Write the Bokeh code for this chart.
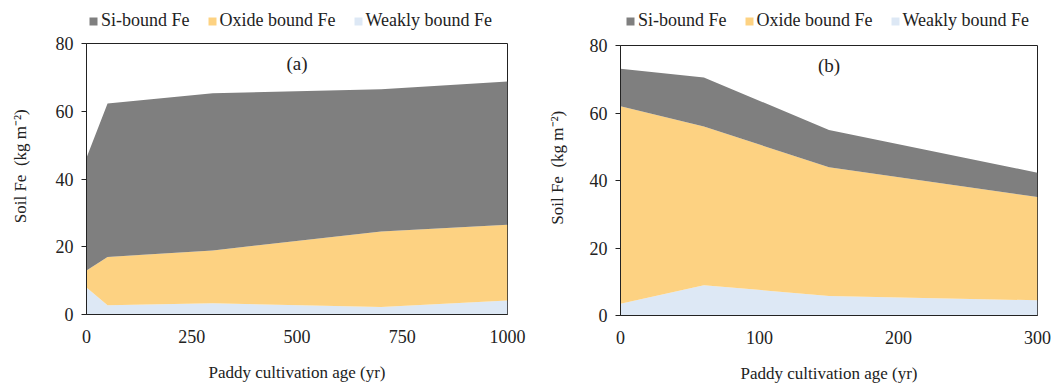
from bokeh.plotting import figure
from bokeh.models import ColumnDataSource, Legend, FixedTicker, Label, Range1d
from bokeh.layouts import row, column
from bokeh.embed import file_html
from bokeh.resources import INLINE

# Panel (a)
age_a = [0, 50, 300, 700, 1000]
weak_a = [8.0, 2.7, 3.3, 2.2, 4.1]
oxide_a = [5.0, 14.3, 15.6, 22.3, 22.4]
si_a = [33.3, 45.3, 46.4, 42.0, 42.3]

# Panel (b)
age_b = [0, 60, 150, 300]
weak_b = [3.5, 9.0, 5.8, 4.5]
oxide_b = [58.5, 47.0, 38.1, 30.6]
si_b = [11.1, 14.5, 11.1, 7.2]

xticks_a = [0, 250, 500, 750, 1000]
xticks_b = [0, 100, 200, 300]
yticks = [0, 20, 40, 60, 80]

series = ["weak", "oxide", "si"]
names = {"si": "Si-bound Fe", "oxide": "Oxide bound Fe", "weak": "Weakly bound Fe"}
colors = {"si": "#7f7f7f", "oxide": "#fdd282", "weak": "#dde8f5"}
FONT = "Liberation Serif"
LEG_H = 32
H = 385 - LEG_H
YLABEL = "\u00a0" * 6 + "Soil Fe\u00a0\u00a0(kg m\u207b\u00b2)"


def legend_fig(src, width, lx):
    # legend-only strip above each panel; the stack is drawn off-view so only the legend shows
    lf = figure(width=width, height=LEG_H, output_backend="svg", toolbar_location=None,
                x_axis_type=None, y_axis_type=None, x_range=Range1d(0, 1),
                y_range=Range1d(-3, -2), min_border=0, outline_line_color=None)
    lf.xgrid.visible = False
    lf.ygrid.visible = False
    rs = lf.varea_stack(stackers=series, x="x", source=src,
                        color=[colors[s] for s in series])
    rmap = dict(zip(series, rs))
    items = [(names[s], [rmap[s]]) for s in ["si", "oxide", "weak"]]
    leg = Legend(items=items, orientation="horizontal", location=(lx, 1),
                 border_line_color=None, background_fill_alpha=0,
                 label_text_font=FONT, label_text_font_size="18px",
                 label_text_color="#222222", label_height=18,
                 glyph_width=10, glyph_height=10, label_standoff=3,
                 spacing=17, padding=2, margin=0)
    lf.add_layout(leg, "center")
    return lf


def make(src, xmax, xticks, tag, width, bl, br, bt, bb, ystand):
    p = figure(width=width, height=H, output_backend="svg", toolbar_location=None,
               x_range=Range1d(0, xmax), y_range=Range1d(0, 80),
               min_border_left=bl, min_border_right=br, min_border_top=bt, min_border_bottom=bb)
    p.varea_stack(stackers=series, x="x", source=src,
                  color=[colors[s] for s in series])
    p.xgrid.visible = False
    p.ygrid.visible = False
    p.outline_line_color = "#222222"
    p.outline_line_width = 1
    for ax in (p.xaxis[0], p.yaxis[0]):
        ax.axis_line_color = "#222222"
        ax.major_tick_line_color = "#222222"
        ax.minor_tick_line_color = None
        ax.major_label_text_font = FONT
        ax.major_label_text_font_size = "18px"
        ax.major_label_text_color = "#222222"
        ax.axis_label_text_font = FONT
        ax.axis_label_text_font_size = "17px"
        ax.axis_label_text_font_style = "normal"
        ax.axis_label_text_color = "#222222"
    p.xaxis.ticker = FixedTicker(ticks=xticks)
    p.yaxis.ticker = FixedTicker(ticks=yticks)
    p.xaxis.major_tick_in = 0
    p.xaxis.major_tick_out = 0
    p.yaxis.major_tick_in = 0
    p.yaxis.major_tick_out = 5
    p.yaxis.major_label_standoff = 8
    p.xaxis.major_label_standoff = 15
    p.xaxis.axis_label_standoff = 17
    p.xaxis.axis_label = "Paddy cultivation age (yr)"
    p.yaxis.axis_label = YLABEL
    p.yaxis.axis_label_standoff = ystand
    p.add_layout(Label(x=xmax / 2, y=74, text=tag, text_font=FONT,
                       text_font_size="19px", text_align="center",
                       text_baseline="middle", text_color="#222222"))
    return p


src_a = ColumnDataSource(dict(x=age_a, weak=weak_a, oxide=oxide_a, si=si_a))
src_b = ColumnDataSource(dict(x=age_b, weak=weak_b, oxide=oxide_b, si=si_b))

la = legend_fig(src_a, 538, 2)
pa = make(src_a, 1000, xticks_a, "(a)", 538, 86, 31, 11, 71, 23)
lb = legend_fig(src_b, 526, 5)
pb = make(src_b, 300, xticks_b, "(b)", 526, 82, 27, 13, 68, 20)

layout = row(column(la, pa), column(lb, pb))
open("out.html", "w").write(file_html(layout, INLINE))
